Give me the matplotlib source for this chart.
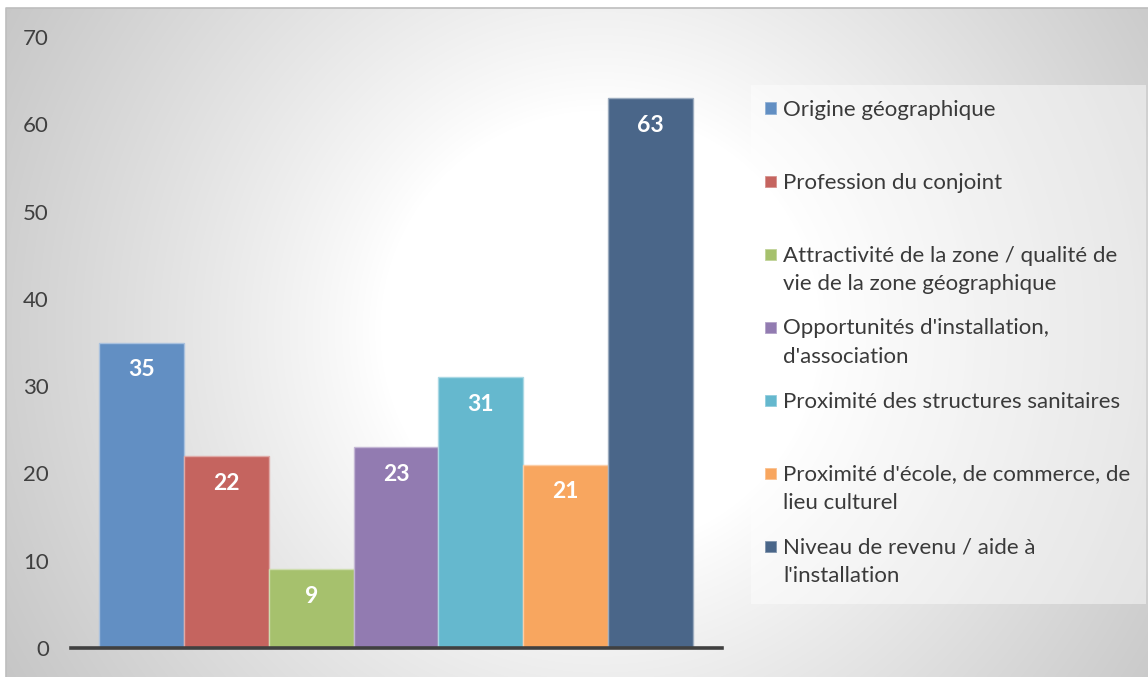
import numpy as np
import matplotlib
matplotlib.use("Agg")
import matplotlib.pyplot as plt
from matplotlib.patches import Rectangle
from matplotlib.colors import to_rgb

plt.rcParams['font.family'] = ['Lato', 'DejaVu Sans']

categories = [
    "Origine géographique",
    "Profession du conjoint",
    "Attractivité de la zone / qualité de\nvie de la zone géographique",
    "Opportunités d'installation,\nd'association",
    "Proximité des structures sanitaires",
    "Proximité d'école, de commerce, de\nlieu culturel",
    "Niveau de revenu / aide à\nl'installation",
]
values = [35, 22, 9, 23, 31, 21, 63]
colors = ["#628FC3", "#C5645F", "#A6C16D", "#927BB1", "#65B8CE", "#F8A65F", "#4A6689"]
yticks = [0, 10, 20, 30, 40, 50, 60, 70]

W, H = 1148, 677
fig = plt.figure(figsize=(W / 100, H / 100), dpi=100)
fig.patch.set_facecolor("white")

def fx(x):
    return x / W

def fy(y):
    return 1 - y / H

# background radial gradient
bg = fig.add_axes([0, 0, 1, 1], zorder=-10)
yy, xx = np.mgrid[0:H, 0:W]
d = np.sqrt((xx - 600.0) ** 2 + (yy - 330.0) ** 2)
t = np.clip((d - 220) / 460.0, 0, 1) ** 0.9
v = 1 - 0.22 * t
v[(xx < 6) | (yy < 8)] = 1.0
img = np.dstack([v, v, v])
bg.imshow(img, extent=(0, W, H, 0), aspect='auto', interpolation='bilinear')
bg.plot([6, 6, W], [H, 8, 8], color="#BEBEBE", lw=1.2)
bg.set_xlim(0, W)
bg.set_ylim(H, 0)
bg.axis('off')

# main axes
ax = fig.add_axes([fx(71), fy(648), fx(722) - fx(71), fy(37) - fy(648)])
ax.patch.set_alpha(0)
x = np.arange(len(values))

def lighten(c, f=0.45):
    r = np.array(to_rgb(c))
    return tuple(r + (1 - r) * f)

bars = ax.bar(x, values, width=1.0, color=colors,
              edgecolor=[lighten(c) for c in colors], linewidth=1.0, zorder=2)
for xi, val in zip(x, values):
    ax.annotate(str(val), xy=(xi, val), xytext=(0, -19.5), textcoords='offset points',
                ha='center', va='center', color='white', fontsize=16.5,
                fontweight='bold', zorder=3)

ax.set_xlim(-0.83, 6.842)
ax.set_ylim(0, 70)
ax.set_yticks(yticks)
ax.set_yticklabels([str(t) for t in yticks], fontsize=16, color="#404040")
ax.tick_params(axis='y', length=0, pad=16)
ax.set_xticks([])
for s in ['top', 'right', 'left']:
    ax.spines[s].set_visible(False)
ax.spines['bottom'].set_color("#404040")
ax.spines['bottom'].set_linewidth(2.6)
ax.spines['bottom'].set_zorder(4)

# legend (drawn manually to match slot layout)
fig.patches.append(Rectangle((fx(751), fy(604)), fx(1146) - fx(751), fy(85) - fy(604),
                             transform=fig.transFigure, facecolor='white', alpha=0.45,
                             edgecolor='none', zorder=1))
base0 = 115.5
step = 73.0
line_gap = 28.4
for i, (lab, c) in enumerate(zip(categories, colors)):
    by = base0 + step * i
    fig.patches.append(Rectangle((fx(765), fy(by - 2)), fx(11), 11 / H,
                                 transform=fig.transFigure, facecolor=c,
                                 edgecolor=lighten(c, 0.3), linewidth=0.6, zorder=2))
    for j, line in enumerate(lab.split("\n")):
        fig.text(fx(783), fy(by + line_gap * j), line, ha='left', va='baseline',
                 fontsize=16, color="#3A3A3A", zorder=3)

fig.savefig("out.png", dpi=100)
